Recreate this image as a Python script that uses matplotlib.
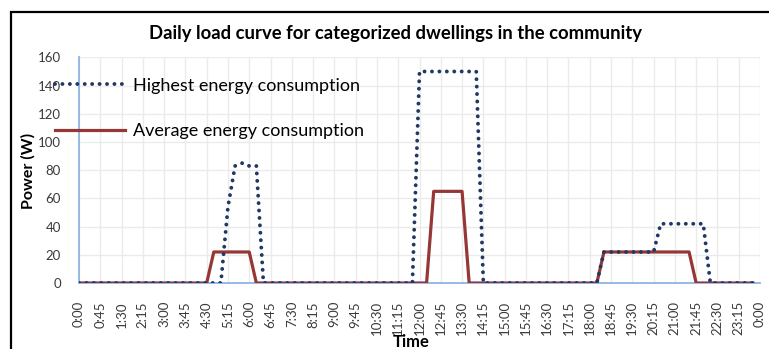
import pandas as pd
import numpy as np
import matplotlib
matplotlib.use('Agg')
import matplotlib.pyplot as plt
from matplotlib.patches import Rectangle

plt.rcParams['font.family'] = ['Lato', 'DejaVu Sans']

# 15-minute slots over one day (96 slots, 0:00 .. 23:45)
slots = list(pd.date_range('2024-01-01 00:00', periods=96, freq='15min').strftime('%H:%M').str.lstrip('0'))
slots = ['0' + s if s.startswith(':') else s for s in slots]

# power in W, one row = 3 hours
highest = [
    0, 0, 0, 0, 0, 0, 0, 0, 0, 0, 0, 0,
    0, 0, 0, 0, 0, 0, 0, 0, 0, 54, 83, 85,
    83, 83, 0, 0, 0, 0, 0, 0, 0, 0, 0, 0,
    0, 0, 0, 0, 0, 0, 0, 0, 0, 0, 0, 0,
    150, 150, 150, 150, 150, 150, 150, 150, 150, 0, 0, 0,
    0, 0, 0, 0, 0, 0, 0, 0, 0, 0, 0, 0,
    0, 0, 22, 22, 22, 22, 22, 22, 22, 22, 42, 42,
    42, 42, 42, 42, 42, 0, 0, 0, 0, 0, 0, 0,
]
average = [
    0, 0, 0, 0, 0, 0, 0, 0, 0, 0, 0, 0,
    0, 0, 0, 0, 0, 0, 0, 22, 22, 22, 22, 22,
    22, 0, 0, 0, 0, 0, 0, 0, 0, 0, 0, 0,
    0, 0, 0, 0, 0, 0, 0, 0, 0, 0, 0, 0,
    0, 0, 65, 65, 65, 65, 65, 0, 0, 0, 0, 0,
    0, 0, 0, 0, 0, 0, 0, 0, 0, 0, 0, 0,
    0, 0, 22, 22, 22, 22, 22, 22, 22, 22, 22, 22,
    22, 22, 22, 0, 0, 0, 0, 0, 0, 0, 0, 0,
]
tick_labels = slots[::3] + ['0:00']

fig = plt.figure(figsize=(7.69, 3.49), dpi=100)
ax = fig.add_axes([79 / 769, 1 - 283 / 349, (760 - 79) / 769, (283 - 57.4) / 349])

x = np.arange(len(slots))
ax.plot(x, average, color='#953735', lw=2.3, zorder=3, label='Average energy consumption')
ax.plot(x, highest, color='#1F3864', lw=2.8, linestyle=(0, (0.01, 1.9)),
        dash_capstyle='round', zorder=4, label='Highest energy consumption')

ax.set_xlim(0, 96)
ax.set_ylim(0, 160)
ax.set_xticks(np.arange(0, 97, 3))
ax.set_xticklabels(tick_labels, rotation=90, fontsize=9.5)
ax.set_yticks(np.arange(0, 161, 20))
ax.tick_params(axis='y', length=0, pad=13, labelsize=9.5, labelcolor='#3A3A3A')
ax.tick_params(axis='x', length=0, pad=13, labelcolor='#3A3A3A')
ax.grid(True, color='#EBEBEB', lw=1)
ax.set_axisbelow(True)
for s in ['top', 'right']:
    ax.spines[s].set_visible(False)
for s in ['left', 'bottom']:
    ax.spines[s].set_color('#8EB4E3')
    ax.spines[s].set_linewidth(1.3)

# legend sitting over the upper left corner
h, l = ax.get_legend_handles_labels()
fig.legend(h[::-1], l[::-1], loc='center left', bbox_to_anchor=(55 / 769, 1 - 108.5 / 349),
           frameon=False, fontsize=13, handlelength=3.9, handletextpad=0.4,
           labelspacing=1.65, borderpad=0, borderaxespad=0)

fig.text(0.514, 1 - 33 / 349, 'Daily load curve for categorized dwellings in the community',
         ha='center', va='center', fontsize=13.3, fontweight='bold')
fig.text(28 / 769, 1 - 171 / 349, 'Power (W)', rotation=90, ha='center', va='center',
         fontsize=11.5, fontweight='bold')
fig.text(411 / 769, 1 - 342 / 349, 'Time', ha='center', va='center', fontsize=12, fontweight='bold')

# black frame around the chart area (right and bottom edges fall outside the picture)
fig.patches.append(Rectangle((11 / 769, -0.2), 1.2, 1.2 + (1 - 12 / 349) - 1, transform=fig.transFigure,
                             fill=False, edgecolor='black', lw=1.6))

fig.savefig('out.png', dpi=100)
